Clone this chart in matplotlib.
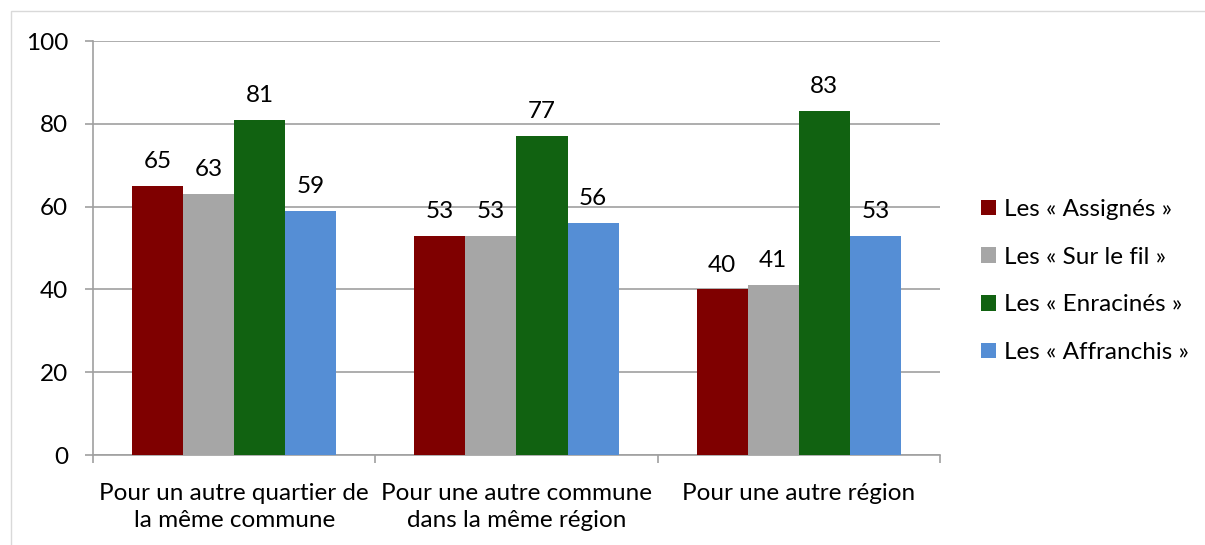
import matplotlib
matplotlib.use("Agg")
import matplotlib.pyplot as plt
import numpy as np
from matplotlib.patches import Rectangle

plt.rcParams["font.family"] = ["Lato", "DejaVu Sans"]

categories = ["Pour un autre quartier de\nla même commune",
              "Pour une autre commune\ndans la même région",
              "Pour une autre région"]
series = ["Les « Assignés »", "Les « Sur le fil »",
          "Les « Enracinés »", "Les « Affranchis »"]
assignes = [65, 53, 40]
sur_le_fil = [63, 53, 41]
enracines = [81, 77, 83]
affranchis = [59, 56, 53]
colors = ["#7f0000", "#a6a6a6", "#116211", "#558ed5"]

values = [assignes, sur_le_fil, enracines, affranchis]
FS = 17.5

fig = plt.figure(figsize=(12.05, 5.45), dpi=100)
# light outer frame like the Excel chart area
fig.patches.append(Rectangle((11 / 1205, -0.01), 1.0, 1 - 11 / 545 + 0.01,
                             transform=fig.transFigure, fill=False,
                             edgecolor="#d9d9d9", linewidth=1))

ax = fig.add_axes([93 / 1205, 1 - 455 / 545, (940 - 93) / 1205, (455 - 41) / 545])

x = np.arange(len(categories))
w = 51 / 282
for i, (vals, col, name) in enumerate(zip(values, colors, series)):
    pos = x + (i - 1.5) * w
    ax.bar(pos, vals, width=w, color=col, label=name, zorder=3)
    for p, v in zip(pos, vals):
        ax.annotate(str(v), (p, v), xytext=(0, 10), textcoords="offset points",
                    ha="center", va="bottom", fontsize=FS)

ax.set_xlim(-0.5, 2.5)
ax.set_ylim(0, 100)
ax.set_yticks([0, 20, 40, 60, 80, 100])
ax.yaxis.grid(True, color="#a0a0a0", linewidth=1.2, zorder=0)
ax.set_axisbelow(True)

for s in ["top", "right"]:
    ax.spines[s].set_visible(False)
for s in ["left", "bottom"]:
    ax.spines[s].set_color("#a0a0a0")
    ax.spines[s].set_linewidth(1.2)

ax.set_xticks(x)
ax.set_xticklabels(categories, fontsize=FS, linespacing=1.38)
ax.set_xticks([-0.5, 0.5, 1.5, 2.5], minor=True)
ax.tick_params(axis="x", which="major", length=0, pad=20)
ax.tick_params(axis="x", which="minor", length=6, color="#a0a0a0", width=1.2)
ax.tick_params(axis="y", length=6, color="#a0a0a0", width=1.2, labelsize=FS, pad=12)

ax.legend(loc="center left", bbox_to_anchor=(1.023, 0.42), frameon=False,
          fontsize=FS, handlelength=0.6, handleheight=0.6, handletextpad=0.35,
          labelspacing=1.1)

fig.savefig("out.png", dpi=100)
